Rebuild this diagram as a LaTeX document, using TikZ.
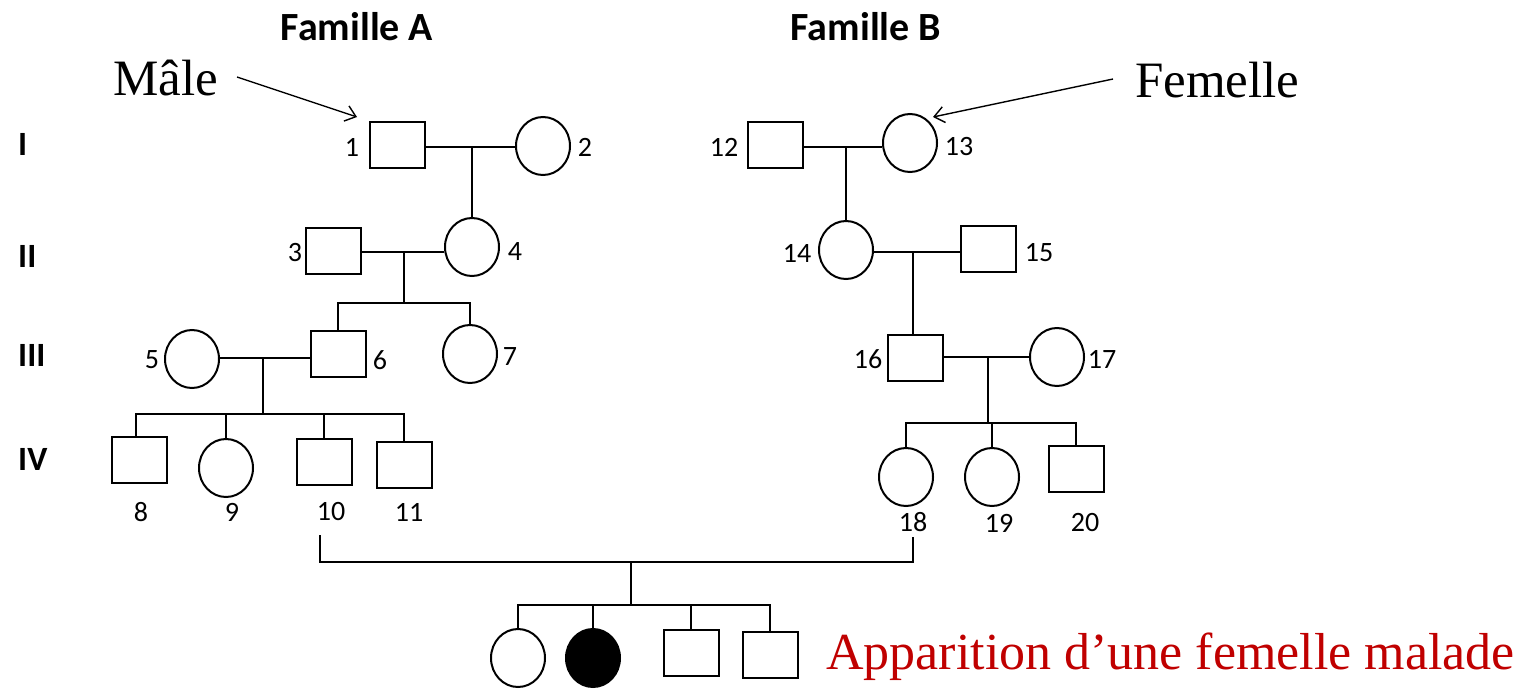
\documentclass[tikz,border=0pt]{standalone}
\usepackage{fontspec}
\setmainfont{Liberation Serif}
\newfontfamily\calib{Carlito}
\usetikzlibrary{shapes.geometric,arrows.meta}

\tikzset{
  male/.style={draw, rectangle, line width=2pt, inner sep=0pt,
    minimum width=55pt, minimum height=46pt},
  female/.style={draw, ellipse, line width=2pt, inner sep=0pt,
    minimum width=54pt, minimum height=58pt},
  affected/.style={female, fill=black},
  num/.style={inner sep=0pt, font=\calib\fontsize{28}{30}\selectfont},
  gen/.style={inner sep=0pt, anchor=base west, font=\calib\bfseries\fontsize{34}{36}\selectfont},
  fam/.style={inner sep=0pt, font=\calib\bfseries\fontsize{40}{44}\selectfont},
  legend/.style={inner sep=0pt, anchor=base west, font=\fontsize{51}{56}\selectfont},
  link/.style={line width=2pt},
  pointer/.style={line width=1.4pt, -{Straight Barb[length=10pt, width=16pt, line width=1.4pt]}}
}

\begin{document}
\begin{tikzpicture}[x=1pt, y=-1pt]
\useasboundingbox (0,0) rectangle (1528,688);

% headings and generation numerals
\node[fam] (famA) at (357,27) {Famille A};
\node[fam] (famB) at (866,27) {Famille B};
\node[gen] (gI)   at (18,155) {I};
\node[gen] (gII)  at (18,267) {II};
\node[gen] (gIII) at (18,366) {III};
\node[gen] (gIV)  at (18,470) {IV};

% family A
\node[male]   (p1)  at (397,145)   {};
\node[female] (p2)  at (543,146)   {};
\node[male]   (p3)  at (333,251)   {};
\node[female] (p4)  at (472,247)   {};
\node[female] (p5)  at (192,359)   {};
\node[male]   (p6)  at (338,354)   {};
\node[female] (p7)  at (470,354)   {};
\node[male]   (p8)  at (139,460)   {};
\node[female] (p9)  at (226,468)   {};
\node[male]   (p10) at (324,462)   {};
\node[male]   (p11) at (404,465)   {};

% family B
\node[male]   (p12) at (775,145)   {};
\node[female] (p13) at (910,143)   {};
\node[female] (p14) at (846,250)   {};
\node[male]   (p15) at (988,249)   {};
\node[male]   (p16) at (915,358)   {};
\node[female] (p17) at (1057,357)  {};
\node[female] (p18) at (906,477)   {};
\node[female] (p19) at (992,477)   {};
\node[male]   (p20) at (1076,469)  {};

% offspring of 10 x 18
\node[female]   (c1) at (518,658) {};
\node[affected] (c2) at (593,658) {};
\node[male]     (c3) at (691,653) {};
\node[male]     (c4) at (770,655) {};

% individual numbers
\node[num] (l1)  at (352,147) {1};
\node[num] (l2)  at (585,147) {2};
\node[num] (l3)  at (295,253) {3};
\node[num] (l4)  at (515,252) {4};
\node[num] (l5)  at (152,360) {5};
\node[num] (l6)  at (380,360) {6};
\node[num] (l7)  at (510,357) {7};
\node[num] (l8)  at (141,512) {8};
\node[num] (l9)  at (232,512) {9};
\node[num] (l10) at (331,512) {10};
\node[num] (l11) at (409,512) {11};
\node[num] (l12) at (724,147) {12};
\node[num] (l13) at (959,147) {13};
\node[num] (l14) at (797,253) {14};
\node[num] (l15) at (1039,253) {15};
\node[num] (l16) at (868,359) {16};
\node[num] (l17) at (1102,359) {17};
\node[num] (l18) at (913,522) {18};
\node[num] (l19) at (999,523) {19};
\node[num] (l20) at (1085,523) {20};

% mating and sibship points
\coordinate (m1) at (472,147);
\coordinate (m2) at (404,252);
\coordinate (s2) at (404,303);
\coordinate (m3) at (263,358);
\coordinate (s3) at (263,414);
\coordinate (m4) at (846,147);
\coordinate (m5) at (913,252);
\coordinate (m6) at (988,357);
\coordinate (s6) at (988,423);
\coordinate (u10) at (320,535);
\coordinate (u18) at (913,537);
\coordinate (m7) at (631,562);
\coordinate (s7) at (631,605);

% family A lines
\draw[link] (p1.east |- m1) -- (p2.west |- m1);
\draw[link] (m1) -- (m1 |- p4.north);
\draw[link] (p3.east |- m2) -- (p4.west |- m2);
\draw[link] (m2) -- (s2);
\draw[link] (p6.north) |- (s2) -| (p7.north);
\draw[link] (p5.east |- m3) -- (p6.west |- m3);
\draw[link] (m3) -- (s3);
\draw[link] (p8.north -| 136,0) |- (s3) -| (p11.north);
\draw[link] (s3 -| p9.north) -- (p9.north);
\draw[link] (s3 -| p10.north) -- (p10.north);

% family B lines
\draw[link] (p12.east |- m4) -- (p13.west |- m4);
\draw[link] (m4) -- (m4 |- p14.north);
\draw[link] (p14.east |- m5) -- (p15.west |- m5);
\draw[link] (m5) -- (m5 |- p16.north);
\draw[link] (p16.east |- m6) -- (p17.west |- m6);
\draw[link] (m6) -- (s6);
\draw[link] (p18.north) |- (s6) -| (p20.north);
\draw[link] (s6 -| p19.north) -- (p19.north);

% union of 10 and 18 and their children
\draw[link] (u10) |- (m7) -| (u18);
\draw[link] (m7) -- (s7);
\draw[link] (c1.north) |- (s7) -| (c4.north);
\draw[link] (s7 -| c2.north) -- (c2.north);
\draw[link] (s7 -| c3.north) -- (c3.north);

% legend texts
\node[legend] (tm) at (113,95) {Mâle};
\node[legend] (tf) at (1135,97) {Femelle};
\node[legend, font=\fontsize{52}{56}\selectfont, text={rgb,255:red,192;green,0;blue,0}] (ta) at (826,669) {Apparition d’une femelle malade};
\coordinate (am) at (237,77);
\coordinate (am2) at (357,117);
\coordinate (af) at (1113,79);
\coordinate (af2) at (933,117);
\draw[pointer] (am) -- (am2);
\draw[pointer] (af) -- (af2);
\end{tikzpicture}
\end{document}
